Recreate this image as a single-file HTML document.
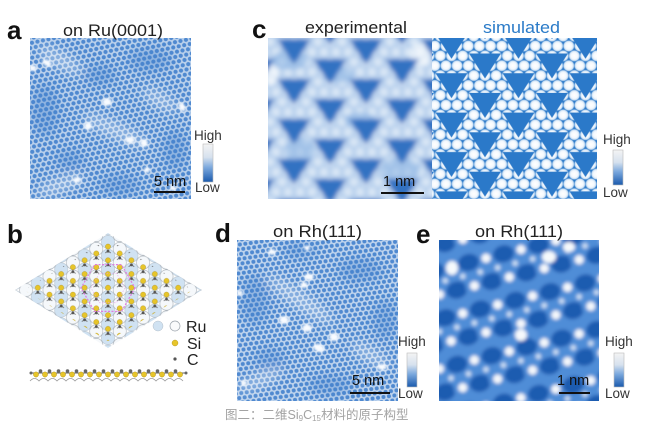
<!DOCTYPE html>
<html><head><meta charset="utf-8">
<style>html,body{margin:0;padding:0;background:#fff}svg{display:block}</style>
</head><body>
<svg width="668" height="425" viewBox="0 0 668 425" xmlns="http://www.w3.org/2000/svg" font-family="'Liberation Sans', Arial, sans-serif">
<defs>
  <filter id="b1" x="-50%" y="-50%" width="200%" height="200%"><feGaussianBlur stdDeviation="1.2"/></filter>
  <filter id="b2" x="-10%" y="-10%" width="120%" height="120%"><feGaussianBlur stdDeviation="2.4"/></filter>
  <filter id="b16" x="-10%" y="-10%" width="120%" height="120%"><feGaussianBlur stdDeviation="1.8"/></filter>
  <filter id="b5" x="-50%" y="-50%" width="200%" height="200%"><feGaussianBlur stdDeviation="5"/></filter>

  <linearGradient id="cbar" x1="0" y1="0" x2="0" y2="1">
    <stop offset="0" stop-color="#f4f4f4"/>
    <stop offset="0.35" stop-color="#d6e1ee"/>
    <stop offset="0.62" stop-color="#7ba8dd"/>
    <stop offset="1" stop-color="#1a5aad"/>
  </linearGradient>

  <radialGradient id="glow">
    <stop offset="0" stop-color="#ffffff"/>
    <stop offset="0.55" stop-color="#f3f8fd"/>
    <stop offset="0.8" stop-color="#c8def3"/>
    <stop offset="1" stop-color="#5a98d8" stop-opacity="0"/>
  </radialGradient>

  <pattern id="dots" width="5.6" height="9.7" patternUnits="userSpaceOnUse" patternTransform="rotate(-12)">
    <rect width="5.6" height="9.7" fill="#bad1ec"/>
    <g fill="#4f89d0">
      <circle cx="0" cy="0" r="2.1"/><circle cx="5.6" cy="0" r="2.1"/>
      <circle cx="0" cy="9.7" r="2.1"/><circle cx="5.6" cy="9.7" r="2.1"/>
      <circle cx="2.8" cy="4.85" r="2.1"/>
    </g>
  </pattern>
  <pattern id="dots2" width="5.5" height="9.5" patternUnits="userSpaceOnUse" patternTransform="rotate(-8)">
    <rect width="5.5" height="9.5" fill="#c0d5ee"/>
    <g fill="#4f89d0">
      <circle cx="0" cy="0" r="2"/><circle cx="5.5" cy="0" r="2"/>
      <circle cx="0" cy="9.5" r="2"/><circle cx="5.5" cy="9.5" r="2"/>
      <circle cx="2.75" cy="4.75" r="2"/>
    </g>
  </pattern>

  <pattern id="cirS" x="468.25" y="46" width="11.1667" height="19.7" patternUnits="userSpaceOnUse">
    <g fill="url(#glow)">
      <circle cx="0" cy="0" r="6.1"/><circle cx="11.1667" cy="0" r="6.1"/>
      <circle cx="0" cy="19.7" r="6.1"/><circle cx="11.1667" cy="19.7" r="6.1"/>
      <circle cx="5.583" cy="9.85" r="6.1"/>
    </g>
  </pattern>
  <pattern id="triS" x="468.25" y="46" width="67" height="39.4" patternUnits="userSpaceOnUse">
    <g fill="#2b79c9">
      <polygon points="0.75,7.5 32.75,7.5 16.75,32.5"/>
      <polygon points="67.75,7.5 99.75,7.5 83.75,32.5"/>
      <polygon points="34.25,27.2 66.25,27.2 50.25,52.2"/>
      <polygon points="-32.75,27.2 -0.75,27.2 -16.75,52.2"/>
      <polygon points="34.25,-12.2 66.25,-12.2 50.25,12.8"/>
      <polygon points="-32.75,-12.2 -0.75,-12.2 -16.75,12.8"/>
    </g>
  </pattern>

  <pattern id="triE" x="312" y="52" width="72" height="40" patternUnits="userSpaceOnUse">
    <g fill="#3072c2">
      <polygon points="1,7 35,7 18,33"/>
      <polygon points="73,7 107,7 90,33"/>
      <polygon points="37,27 71,27 54,53"/>
      <polygon points="-35,27 -1,27 -18,53"/>
      <polygon points="37,-13 71,-13 54,13"/>
      <polygon points="-35,-13 -1,-13 -18,13"/>
    </g>
  </pattern>
  <pattern id="hazeE" x="312" y="52" width="12" height="20" patternUnits="userSpaceOnUse">
    <rect width="12" height="20" fill="#94bae6"/>
    <g fill="#e6eff9">
      <circle cx="0" cy="0" r="5"/><circle cx="12" cy="0" r="5"/>
      <circle cx="0" cy="20" r="5"/><circle cx="12" cy="20" r="5"/>
      <circle cx="6" cy="10" r="5"/>
    </g>
  </pattern>

  <pattern id="eP" x="439" y="240" width="36" height="48" patternUnits="userSpaceOnUse" patternTransform="rotate(-14 519 320)">
    <rect width="36" height="48" fill="#4f8dd7"/>
    <g fill="#1d5bb0">
      <ellipse cx="9" cy="12" rx="10.5" ry="8.5"/>
      <ellipse cx="45" cy="12" rx="10.5" ry="8.5"/>
      <ellipse cx="27" cy="36" rx="10.5" ry="8.5"/>
    </g>
    <g fill="#f4f7fb">
      <circle cx="27" cy="12" r="4.6"/>
      <circle cx="9" cy="36" r="4.6"/>
    </g>
    <g fill="#cfe0f4">
      <circle cx="18" cy="24" r="2.8"/>
      <circle cx="0" cy="24" r="2.8"/>
      <circle cx="36" cy="24" r="2.8"/>
    </g>
  </pattern>

  <pattern id="ru" x="108" y="242" width="23.4" height="13.72" patternUnits="userSpaceOnUse">
    <g fill="#d0e2f2" stroke="#b2bec9" stroke-width="0.5">
      <circle cx="0" cy="0" r="6.6"/><circle cx="23.4" cy="0" r="6.6"/>
      <circle cx="0" cy="13.72" r="6.6"/><circle cx="23.4" cy="13.72" r="6.6"/>
    </g>
    <circle cx="11.7" cy="6.86" r="6.6" fill="#f5f8fb" stroke="#a6aeb6" stroke-width="0.6"/>
  </pattern>
  <pattern id="si" x="108" y="242" width="23.4" height="13.72" patternUnits="userSpaceOnUse">
    <g stroke="#666" stroke-width="0.8">
      <line x1="11.7" y1="2.29" x2="11.7" y2="-1"/>
      <line x1="11.7" y1="2.29" x2="14.5" y2="4"/>
      <line x1="11.7" y1="2.29" x2="8.9" y2="4"/>
      <line x1="0" y1="9.15" x2="2.8" y2="10.9"/>
      <line x1="23.4" y1="9.15" x2="20.6" y2="10.9"/>
    </g>
    <g fill="#555">
      <circle cx="11.7" cy="2.29" r="1.4"/>
      <circle cx="0" cy="9.15" r="1.4"/><circle cx="23.4" cy="9.15" r="1.4"/>
    </g>
    <g fill="#e7c52a" stroke="#a98c12" stroke-width="0.4">
      <circle cx="0" cy="4.57" r="2.6"/><circle cx="23.4" cy="4.57" r="2.6"/>
      <circle cx="11.7" cy="11.43" r="2.6"/><circle cx="11.7" cy="-2.29" r="2.6"/>
    </g>
  </pattern>

  <clipPath id="cA"><rect x="30" y="38" width="161" height="161"/></clipPath>
  <clipPath id="cE1"><rect x="268" y="38" width="165" height="161"/></clipPath>
  <clipPath id="cS"><rect x="432" y="38" width="165" height="161"/></clipPath>
  <clipPath id="cD"><rect x="237" y="240" width="161" height="161"/></clipPath>
  <clipPath id="cEe"><rect x="439" y="240" width="160" height="161"/></clipPath>
  <clipPath id="rh"><polygon points="15,290 108,233 202,290 108,348"/></clipPath>
  <clipPath id="rhi"><polygon points="24,290 108,239 193,290 108,341"/></clipPath>
</defs>

<rect width="668" height="425" fill="#fff"/>

<!-- Panel a -->
<g clip-path="url(#cA)">
  <rect x="30" y="38" width="161" height="161" fill="url(#dots)"/>
  <g filter="url(#b5)">
    <g fill="#3f7ccc" opacity="0.35">
      <ellipse cx="45" cy="110" rx="14" ry="26"/>
      <ellipse cx="150" cy="60" rx="22" ry="12"/>
      <ellipse cx="120" cy="185" rx="20" ry="10"/>
      <ellipse cx="100" cy="75" rx="16" ry="10"/>
      <ellipse cx="175" cy="150" rx="12" ry="20"/>
      <ellipse cx="70" cy="160" rx="14" ry="10"/>
    </g>
    <g fill="#ffffff" opacity="0.35">
      <ellipse cx="60" cy="60" rx="25" ry="8" transform="rotate(30 60 60)"/>
      <ellipse cx="115" cy="130" rx="35" ry="8" transform="rotate(25 115 130)"/>
      <ellipse cx="60" cy="185" rx="25" ry="7" transform="rotate(-20 60 185)"/>
      <ellipse cx="160" cy="100" rx="20" ry="7" transform="rotate(30 160 100)"/>
    </g>
  </g>
  <g filter="url(#b1)" fill="#f8fbff">
    <ellipse cx="47" cy="63" rx="5" ry="3" transform="rotate(30 47 63)"/>
    <ellipse cx="33" cy="68" rx="4" ry="3"/>
    <ellipse cx="107" cy="102" rx="5" ry="4"/>
    <ellipse cx="88" cy="126" rx="4" ry="4"/>
    <ellipse cx="130" cy="140" rx="5" ry="3.5"/>
    <ellipse cx="144" cy="143" rx="4" ry="4"/>
    <ellipse cx="182" cy="107" rx="3" ry="5" transform="rotate(-30 182 107)"/>
    <ellipse cx="77" cy="180" rx="4" ry="3"/>
    <ellipse cx="147" cy="170" rx="3" ry="3"/>
    <ellipse cx="173" cy="188" rx="3" ry="3"/>
  </g>
</g>
<text x="7" y="39" font-size="26" font-weight="bold" fill="#111">a</text>
<text x="63" y="36" font-size="16.5" fill="#222" textLength="100" lengthAdjust="spacingAndGlyphs">on Ru(0001)</text>
<text x="154" y="186" font-size="14.5" fill="#111">5 nm</text>
<line x1="154" y1="192" x2="185" y2="192" stroke="#111" stroke-width="2"/>
<text x="194" y="140" font-size="13.5" fill="#333">High</text>
<rect x="203" y="144" width="10" height="38" fill="url(#cbar)" stroke="#bbb" stroke-width="0.6"/>
<text x="195" y="192" font-size="13.5" fill="#333">Low</text>

<!-- Panel c -->
<g clip-path="url(#cE1)">
  <g filter="url(#b2)">
    <rect x="258" y="28" width="184" height="181" fill="#c4d9f0"/>
    <rect x="258" y="28" width="184" height="181" fill="url(#hazeE)" opacity="0.6"/>
    <g fill="#8db5e4" opacity="0.55">
      <ellipse cx="290" cy="60" rx="18" ry="10"/>
      <ellipse cx="400" cy="170" rx="20" ry="12"/>
      <ellipse cx="300" cy="150" rx="15" ry="12"/>
      <ellipse cx="360" cy="120" rx="16" ry="8"/>
      <ellipse cx="340" cy="75" rx="14" ry="8"/>
    </g>
    <g fill="#ffffff" opacity="0.6">
      <ellipse cx="272" cy="75" rx="6" ry="10"/>
      <ellipse cx="420" cy="55" rx="10" ry="12"/>
    </g>
    <rect x="258" y="28" width="184" height="181" fill="url(#triE)"/>
  </g>
</g>
<g clip-path="url(#cS)">
  <rect x="432" y="38" width="165" height="161" fill="#2b79c9"/>
  <rect x="432" y="38" width="165" height="161" fill="url(#cirS)"/>
  <rect x="432" y="38" width="165" height="161" fill="url(#triS)"/>
</g>
<text x="252" y="38" font-size="26" font-weight="bold" fill="#111">c</text>
<text x="305" y="33" font-size="16.5" fill="#222" textLength="102" lengthAdjust="spacingAndGlyphs">experimental</text>
<text x="483" y="33" font-size="16.5" fill="#2b7bc8" textLength="77" lengthAdjust="spacingAndGlyphs">simulated</text>
<text x="383" y="186" font-size="14.5" fill="#111">1 nm</text>
<line x1="381" y1="193" x2="424" y2="193" stroke="#111" stroke-width="2"/>
<text x="603" y="144" font-size="13.5" fill="#333">High</text>
<rect x="613" y="150" width="10" height="35" fill="url(#cbar)" stroke="#bbb" stroke-width="0.6"/>
<text x="603" y="197" font-size="13.5" fill="#333">Low</text>

<!-- Panel b -->
<text x="7" y="243" font-size="26" font-weight="bold" fill="#111">b</text>
<g clip-path="url(#rh)">
  <rect x="10" y="228" width="200" height="125" fill="url(#ru)"/>
</g>
<g clip-path="url(#rhi)">
  <rect x="10" y="228" width="200" height="125" fill="url(#si)"/>
</g>
<polygon points="135,288 121.5,311.4 94.5,311.4 81,288 94.5,264.6 121.5,264.6" fill="none" stroke="#e07ce0" stroke-width="1.2" stroke-dasharray="2 1.5"/>
<polygon points="125,288 116.5,302.7 99.5,302.7 91,288 99.5,273.3 116.5,273.3" fill="none" stroke="#e9a0e9" stroke-width="0.8" stroke-dasharray="1.5 1.5" opacity="0.7"/>

<circle cx="158" cy="326" r="5" fill="#d0e2f2" stroke="#b2bec9" stroke-width="0.5"/>
<circle cx="175" cy="326" r="5" fill="#fafbfc" stroke="#9aa2aa" stroke-width="0.7"/>
<text x="186" y="332" font-size="16" fill="#222">Ru</text>
<circle cx="175" cy="343" r="3" fill="#e7c52a" stroke="#a98c12" stroke-width="0.4"/>
<text x="187" y="349" font-size="16" fill="#222">Si</text>
<circle cx="175" cy="359" r="1.6" fill="#555"/>
<text x="187" y="365" font-size="16" fill="#222">C</text>

<path d="M30 381 q4.5 -5 9 0 q4.5 -5 9 0 q4.5 -5 9 0 q4.5 -5 9 0 q4.5 -5 9 0 q4.5 -5 9 0 q4.5 -5 9 0 q4.5 -5 9 0 q4.5 -5 9 0 q4.5 -5 9 0 q4.5 -5 9 0 q4.5 -5 9 0 q4.5 -5 9 0 q4.5 -5 9 0 q4.5 -5 9 0 q4.5 -5 9 0 q4.5 -5 9 0" fill="none" stroke="#999" stroke-width="0.8"/>
<line x1="30" y1="373" x2="187" y2="373" stroke="#666" stroke-width="1"/>
<g fill="#666">
  <circle cx="31" cy="373" r="1.5"/><circle cx="40.5" cy="371" r="1.8"/><circle cx="49.5" cy="371" r="1.8"/><circle cx="58.5" cy="371" r="1.8"/>
  <circle cx="67.5" cy="371" r="1.8"/><circle cx="76.5" cy="371" r="1.8"/><circle cx="85.5" cy="371" r="1.8"/><circle cx="94.5" cy="371" r="1.8"/>
  <circle cx="103.5" cy="371" r="1.8"/><circle cx="112.5" cy="371" r="1.8"/><circle cx="121.5" cy="371" r="1.8"/><circle cx="130.5" cy="371" r="1.8"/>
  <circle cx="139.5" cy="371" r="1.8"/><circle cx="148.5" cy="371" r="1.8"/><circle cx="157.5" cy="371" r="1.8"/><circle cx="166.5" cy="371" r="1.8"/>
  <circle cx="175.5" cy="371" r="1.8"/><circle cx="186" cy="373" r="1.5"/>
</g>
<g fill="#e7c52a" stroke="#a98c12" stroke-width="0.4">
  <circle cx="36" cy="374.5" r="2.6"/><circle cx="45" cy="374.5" r="2.6"/><circle cx="54" cy="374.5" r="2.6"/><circle cx="63" cy="374.5" r="2.6"/>
  <circle cx="72" cy="374.5" r="2.6"/><circle cx="81" cy="374.5" r="2.6"/><circle cx="90" cy="374.5" r="2.6"/><circle cx="99" cy="374.5" r="2.6"/>
  <circle cx="108" cy="374.5" r="2.6"/><circle cx="117" cy="374.5" r="2.6"/><circle cx="126" cy="374.5" r="2.6"/><circle cx="135" cy="374.5" r="2.6"/>
  <circle cx="144" cy="374.5" r="2.6"/><circle cx="153" cy="374.5" r="2.6"/><circle cx="162" cy="374.5" r="2.6"/><circle cx="171" cy="374.5" r="2.6"/>
  <circle cx="180" cy="374.5" r="2.6"/>
</g>

<!-- Panel d -->
<g clip-path="url(#cD)">
  <rect x="237" y="240" width="161" height="161" fill="url(#dots2)"/>
  <g filter="url(#b5)">
    <g fill="#3f7ccc" opacity="0.35">
      <ellipse cx="255" cy="300" rx="14" ry="25"/>
      <ellipse cx="360" cy="270" rx="22" ry="12"/>
      <ellipse cx="330" cy="385" rx="22" ry="10"/>
      <ellipse cx="300" cy="250" rx="16" ry="8"/>
      <ellipse cx="385" cy="320" rx="12" ry="20"/>
      <ellipse cx="270" cy="360" rx="14" ry="12"/>
    </g>
    <g fill="#ffffff" opacity="0.35">
      <ellipse cx="300" cy="300" rx="40" ry="8" transform="rotate(35 300 300)"/>
      <ellipse cx="260" cy="380" rx="25" ry="7" transform="rotate(-25 260 380)"/>
      <ellipse cx="370" cy="355" rx="22" ry="7" transform="rotate(30 370 355)"/>
    </g>
  </g>
  <g filter="url(#b1)" fill="#f8fbff">
    <ellipse cx="272" cy="252" rx="4" ry="3"/>
    <ellipse cx="307" cy="248" rx="3" ry="2.5"/>
    <ellipse cx="309" cy="277" rx="5" ry="3.5"/>
    <ellipse cx="304" cy="285" rx="4" ry="3"/>
    <ellipse cx="284" cy="320" rx="5" ry="4"/>
    <ellipse cx="307" cy="328" rx="5" ry="4"/>
    <ellipse cx="334" cy="337" rx="5" ry="4"/>
    <ellipse cx="319" cy="348" rx="6" ry="4" transform="rotate(20 319 348)"/>
    <ellipse cx="240" cy="293" rx="3" ry="3"/>
    <ellipse cx="382" cy="367" rx="5" ry="3"/>
    <ellipse cx="244" cy="383" rx="3" ry="3"/>
  </g>
</g>
<text x="215" y="242" font-size="26" font-weight="bold" fill="#111">d</text>
<text x="273" y="237" font-size="16.5" fill="#222" textLength="89" lengthAdjust="spacingAndGlyphs">on Rh(111)</text>
<text x="352" y="385" font-size="14.5" fill="#111">5 nm</text>
<line x1="350" y1="393" x2="390" y2="393" stroke="#111" stroke-width="2"/>
<text x="398" y="346" font-size="13.5" fill="#333">High</text>
<rect x="407" y="353" width="10" height="34" fill="url(#cbar)" stroke="#bbb" stroke-width="0.6"/>
<text x="398" y="398" font-size="13.5" fill="#333">Low</text>

<!-- Panel e -->
<g clip-path="url(#cEe)">
  <g filter="url(#b16)">
    <rect x="429" y="230" width="180" height="181" fill="url(#eP)"/>
    <g fill="#f6f9fc">
      <ellipse cx="452" cy="268" rx="6" ry="7"/>
      <ellipse cx="549" cy="257" rx="7" ry="6"/>
      <ellipse cx="569" cy="247" rx="6" ry="5"/>
      <ellipse cx="521" cy="335" rx="6" ry="6"/>
    </g>
  </g>
</g>
<text x="416" y="243" font-size="26" font-weight="bold" fill="#111">e</text>
<text x="475" y="237" font-size="16.5" fill="#222" textLength="88" lengthAdjust="spacingAndGlyphs">on Rh(111)</text>
<text x="557" y="385" font-size="14.5" fill="#111">1 nm</text>
<line x1="559" y1="393" x2="590" y2="393" stroke="#111" stroke-width="2"/>
<text x="605" y="346" font-size="13.5" fill="#333">High</text>
<rect x="614" y="353" width="10" height="34" fill="url(#cbar)" stroke="#bbb" stroke-width="0.6"/>
<text x="605" y="398" font-size="13.5" fill="#333">Low</text>

<text x="225" y="419" font-size="12.5" fill="#a3a3a3" font-family="'Liberation Sans', 'Noto Sans CJK SC', sans-serif">图二：二维Si<tspan font-size="8" dy="2">9</tspan><tspan dy="-2">C</tspan><tspan font-size="8" dy="2">15</tspan><tspan dy="-2">材料的原子构型</tspan></text>
</svg>
</body></html>
